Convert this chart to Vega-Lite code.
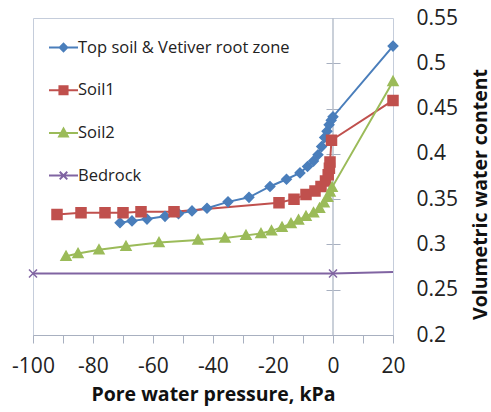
{
  "$schema": "https://vega.github.io/schema/vega-lite/v6.json",
  "width": 360,
  "height": 317,
  "autosize": {"type": "none"},
  "padding": {"left": 33, "top": 18, "right": 98, "bottom": 77},
  "background": "white",
  "config": {
    "view": {"stroke": "#c5cddb", "strokeWidth": 1},
    "font": "Open Sans",
    "axisX": {
      "values": [-100, -80, -60, -40, -20, 0, 20],
      "labelExpr": "'' + datum.value",
      "labelFlush": false,
      "labelFontSize": 21,
      "labelColor": "#222222",
      "labelPadding": 12,
      "tickSize": 8,
      "tickColor": "#a8b0c0",
      "domainColor": "#a8b0c0",
      "grid": false,
      "titleFontSize": 19.5,
      "titleFontWeight": "bold",
      "titleColor": "#111111",
      "titlePadding": 9
    }
  },
  "data": {
    "values": [
      {"s": "Top soil & Vetiver root zone", "x": -71, "y": 0.324},
      {"s": "Top soil & Vetiver root zone", "x": -67, "y": 0.326},
      {"s": "Top soil & Vetiver root zone", "x": -62, "y": 0.328},
      {"s": "Top soil & Vetiver root zone", "x": -56, "y": 0.331},
      {"s": "Top soil & Vetiver root zone", "x": -51.5, "y": 0.334},
      {"s": "Top soil & Vetiver root zone", "x": -47, "y": 0.337},
      {"s": "Top soil & Vetiver root zone", "x": -42, "y": 0.340},
      {"s": "Top soil & Vetiver root zone", "x": -35, "y": 0.347},
      {"s": "Top soil & Vetiver root zone", "x": -28, "y": 0.352},
      {"s": "Top soil & Vetiver root zone", "x": -21, "y": 0.364},
      {"s": "Top soil & Vetiver root zone", "x": -15.5, "y": 0.372},
      {"s": "Top soil & Vetiver root zone", "x": -11, "y": 0.379},
      {"s": "Top soil & Vetiver root zone", "x": -8.5, "y": 0.386},
      {"s": "Top soil & Vetiver root zone", "x": -6.5, "y": 0.392},
      {"s": "Top soil & Vetiver root zone", "x": -5, "y": 0.399},
      {"s": "Top soil & Vetiver root zone", "x": -3.8, "y": 0.408},
      {"s": "Top soil & Vetiver root zone", "x": -2.8, "y": 0.418},
      {"s": "Top soil & Vetiver root zone", "x": -2, "y": 0.425},
      {"s": "Top soil & Vetiver root zone", "x": -1.3, "y": 0.432},
      {"s": "Top soil & Vetiver root zone", "x": -0.6, "y": 0.437},
      {"s": "Top soil & Vetiver root zone", "x": 0, "y": 0.441},
      {"s": "Top soil & Vetiver root zone", "x": 20, "y": 0.519},
      {"s": "Soil1", "x": -92, "y": 0.333},
      {"s": "Soil1", "x": -84, "y": 0.335},
      {"s": "Soil1", "x": -76, "y": 0.335},
      {"s": "Soil1", "x": -70, "y": 0.335},
      {"s": "Soil1", "x": -64, "y": 0.336},
      {"s": "Soil1", "x": -53, "y": 0.336},
      {"s": "Soil1", "x": -18, "y": 0.346},
      {"s": "Soil1", "x": -13, "y": 0.350},
      {"s": "Soil1", "x": -9, "y": 0.355},
      {"s": "Soil1", "x": -6, "y": 0.359},
      {"s": "Soil1", "x": -4, "y": 0.364},
      {"s": "Soil1", "x": -2.5, "y": 0.370},
      {"s": "Soil1", "x": -1.6, "y": 0.377},
      {"s": "Soil1", "x": -1.2, "y": 0.384},
      {"s": "Soil1", "x": -1, "y": 0.391},
      {"s": "Soil1", "x": -0.5, "y": 0.415},
      {"s": "Soil1", "x": 20, "y": 0.459},
      {"s": "Soil2", "x": -89, "y": 0.287},
      {"s": "Soil2", "x": -85, "y": 0.290},
      {"s": "Soil2", "x": -78, "y": 0.294},
      {"s": "Soil2", "x": -69, "y": 0.298},
      {"s": "Soil2", "x": -58, "y": 0.302},
      {"s": "Soil2", "x": -45, "y": 0.305},
      {"s": "Soil2", "x": -36, "y": 0.307},
      {"s": "Soil2", "x": -29, "y": 0.310},
      {"s": "Soil2", "x": -24, "y": 0.312},
      {"s": "Soil2", "x": -20.5, "y": 0.315},
      {"s": "Soil2", "x": -17, "y": 0.319},
      {"s": "Soil2", "x": -14, "y": 0.323},
      {"s": "Soil2", "x": -11.5, "y": 0.327},
      {"s": "Soil2", "x": -9, "y": 0.331},
      {"s": "Soil2", "x": -6.5, "y": 0.335},
      {"s": "Soil2", "x": -4.5, "y": 0.340},
      {"s": "Soil2", "x": -3, "y": 0.346},
      {"s": "Soil2", "x": -1.8, "y": 0.352},
      {"s": "Soil2", "x": -1, "y": 0.358},
      {"s": "Soil2", "x": -0.3, "y": 0.363},
      {"s": "Soil2", "x": 20, "y": 0.480},
      {"s": "Bedrock", "x": -100, "y": 0.268},
      {"s": "Bedrock", "x": 0, "y": 0.268},
      {"s": "Bedrock", "x": 20, "y": 0.2695}
    ]
  },
  "layer": [
    {
      "data": {"values": [{}]},
      "mark": {"type": "rule", "color": "#b8c0cc", "strokeWidth": 1.5},
      "encoding": {
        "x": {"datum": 0, "type": "quantitative", "scale": {"domain": [-100, 20], "nice": false}}
      }
    },
    {
      "mark": {"type": "line", "strokeWidth": 2},
      "encoding": {
        "x": {"field": "x", "type": "quantitative", "scale": {"domain": [-100, 20], "nice": false}, "title": "Pore water pressure, kPa"},
        "y": {
          "field": "y", "type": "quantitative",
          "scale": {"domain": [0.2, 0.55], "nice": false, "zero": false},
          "axis": {
            "orient": "right", "values": [0.2, 0.25, 0.3, 0.35, 0.4, 0.45, 0.5, 0.55],
            "format": ".2~f", "domain": false, "ticks": false, "tickSize": 0, "grid": false,
            "labelFontSize": 21, "labelColor": "#222222", "labelPadding": 23, "labelAlign": "left",
            "title": "Volumetric water content", "titleFontSize": 19.5, "titleFontWeight": "bold",
            "titleColor": "#111111", "titleAngle": 270, "titleX": 87, "titleY": 176,
            "titleAlign": "center", "titleBaseline": "middle"
          }
        },
        "color": {
          "field": "s", "type": "nominal",
          "scale": {
            "domain": ["Top soil & Vetiver root zone", "Soil1", "Soil2", "Bedrock"],
            "range": ["#4a7ebb", "#c0504d", "#9bbb59", "#8064a2"]
          },
          "legend": {
            "title": null, "orient": "none", "legendX": 15, "legendY": 14, "padding": 0,
            "labelFontSize": 16.5, "labelColor": "#222222", "labelOffset": -1, "labelLimit": 0,
            "symbolSize": 841, "rowPadding": 18.7, "symbolStrokeWidth": 2,
            "encode": {
              "symbols": {
                "update": {
                  "shape": {"signal": "datum.value === 'Soil1' ? 'M-1,0H1M-0.28,-0.28H0.28V0.28H-0.28Z' : datum.value === 'Soil2' ? 'M-1,0H1M0,-0.3L0.3,0.24H-0.3Z' : datum.value === 'Bedrock' ? 'M-1,0H1M-0.26,-0.26L0.26,0.26M-0.26,0.26L0.26,-0.26' : 'M-1,0H1M-0.26,0L0,-0.26L0.26,0L0,0.26Z'"},
                  "strokeWidth": {"value": 2}
                }
              }
            }
          }
        }
      }
    },
    {
      "transform": [{"filter": "datum.s !== 'Bedrock' || datum.x < 20"}],
      "mark": {
        "type": "point", "filled": true, "opacity": 1, "strokeWidth": 1.5, "size": 100,
        "shape": {"expr": "datum.s === 'Soil1' ? 'M-1,-1H1V1H-1Z' : datum.s === 'Soil2' ? 'M0,-1L1,0.8H-1Z' : datum.s === 'Bedrock' ? 'M-0.8,-0.8L0.8,0.8M-0.8,0.8L0.8,-0.8' : 'M-0.95,0L0,-0.95L0.95,0L0,0.95Z'"},
        "stroke": {"expr": "scale('color', datum.s)"}
      },
      "encoding": {
        "x": {"field": "x", "type": "quantitative", "scale": {"domain": [-100, 20], "nice": false}},
        "y": {
          "field": "y", "type": "quantitative",
          "scale": {"domain": [0.2, 0.55], "nice": false, "zero": false},
          "axis": {
            "orient": "left", "offset": -307, "domain": false, "labels": false, "title": null,
            "tickSize": 14, "tickColor": "#a8b0c0", "grid": false,
            "values": [0.25, 0.3, 0.35, 0.4, 0.45, 0.5]
          }
        },
        "color": {"field": "s", "type": "nominal"}
      }
    }
  ],
  "resolve": {"axis": {"y": "independent"}}
}
